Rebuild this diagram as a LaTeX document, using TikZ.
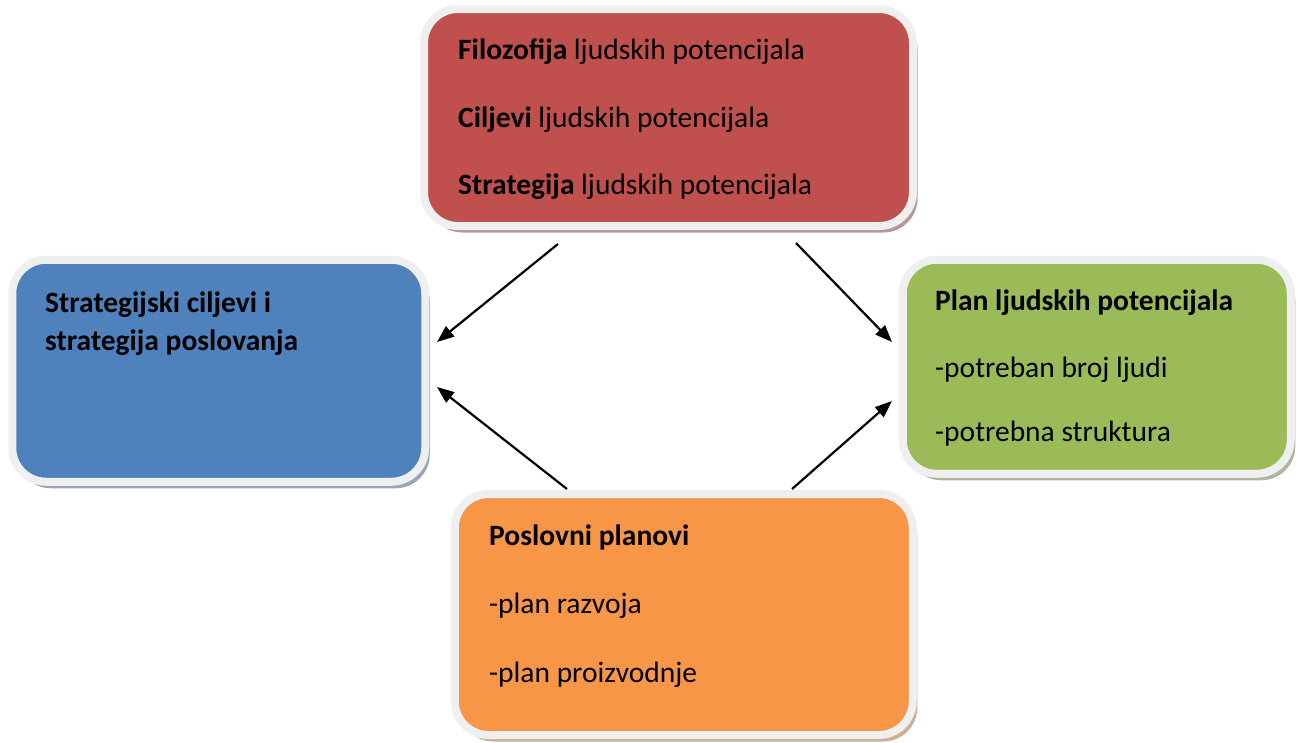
\documentclass[tikz,border=0pt]{standalone}
\usepackage{fontspec}
\setmainfont{Carlito}
\usetikzlibrary{arrows.meta,shadows}
\definecolor{cred}{HTML}{C0504D}
\definecolor{cblue}{HTML}{4F81BD}
\definecolor{cgreen}{HTML}{9BBB59}
\definecolor{corange}{HTML}{F79646}
\definecolor{rim}{HTML}{EFEFEF}
\tikzset{
  card/.style={rectangle, rounded corners=34pt, draw=rim, line width=8pt, inner sep=0pt},
  rimshadow/.style={drop shadow={shadow xshift=4.5pt, shadow yshift=-6.5pt, fill=#1, opacity=1}},
  txt/.style={anchor=base west, inner sep=0pt, font=\fontsize{29.5}{35}\selectfont},
  conn/.style={line width=2.2pt, -{Triangle[length=17pt,width=13pt]}},
}
\begin{document}
\begin{tikzpicture}[x=1pt,y=-1pt]
\useasboundingbox (0,0) rectangle (1298,742);
% boxes
\node[card, fill=cred, rimshadow=cred!40!gray!70!white, minimum width=489pt, minimum height=217pt] (red) at (668.5,117.5) {};
\node[card, fill=cblue, rimshadow=cblue!40!gray!70!white, minimum width=413pt, minimum height=222pt] (blue) at (218.75,370.75) {};
\node[card, fill=cgreen, rimshadow=cgreen!40!gray!70!white, minimum width=388pt, minimum height=214pt] (green) at (1096.75,366.75) {};
\node[card, fill=corange, rimshadow=corange!50!gray!70!white, minimum width=458pt, minimum height=241pt] (orange) at (683.75,614.5) {};
% texts
\node[txt] (r1) at (458,59) {\textbf{Filozofija} ljudskih potencijala};
\node[txt] (r2) at (458,127) {\textbf{Ciljevi} ljudskih potencijala};
\node[txt] (r3) at (458,194) {\textbf{Strategija} ljudskih potencijala};
\node[txt] (b1) at (45,312) {\textbf{Strategijski ciljevi i}};
\node[txt] (b2) at (45,350) {\textbf{strategija poslovanja}};
\node[txt] (g1) at (935,310) {\textbf{Plan ljudskih potencijala}};
\node[txt] (g2) at (935,377) {-potreban broj ljudi};
\node[txt] (g3) at (935,441) {-potrebna struktura};
\node[txt] (o1) at (489,545) {\textbf{Poslovni planovi}};
\node[txt] (o2) at (489,613) {-plan razvoja};
\node[txt] (o3) at (489,682) {-plan proizvodnje};
% arrow end points
\coordinate (a1s) at (558,244);
\coordinate (a1e) at (437,342);
\coordinate (a2s) at (796,243);
\coordinate (a2e) at (892,342);
\coordinate (a3s) at (567,489);
\coordinate (a3e) at (437,387);
\coordinate (a4s) at (792,489);
\coordinate (a4e) at (892,401);
\draw[conn] (a1s) -- (a1e);
\draw[conn] (a2s) -- (a2e);
\draw[conn] (a3s) -- (a3e);
\draw[conn] (a4s) -- (a4e);
\end{tikzpicture}
\end{document}
